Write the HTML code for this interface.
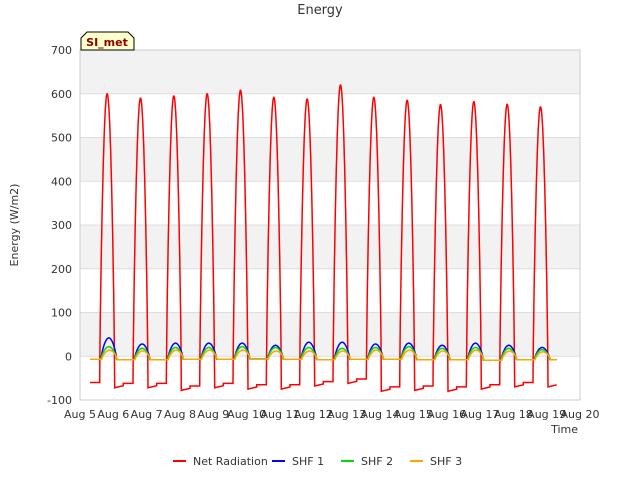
<!DOCTYPE html>
<html><head><meta charset="utf-8"><style>
body{margin:0;background:#fff;font-family:"Liberation Sans",sans-serif;}
svg text{font-family:"DejaVu Sans","Liberation Sans",sans-serif;}
</style></head><body>
<svg id="c" width="640" height="480" xmlns="http://www.w3.org/2000/svg"></svg>
<script>
const categories=["Aug 5","Aug 6","Aug 7","Aug 8","Aug 9","Aug 10","Aug 11","Aug 12","Aug 13","Aug 14","Aug 15","Aug 16","Aug 17","Aug 18","Aug 19","Aug 20"];
const yTicks=[-100,0,100,200,300,400,500,600,700];
const netPeaks=[600,590,595,600,608,592,588,620,592,585,575,582,576,570];
const netNight=[-60,-62,-62,-68,-62,-65,-65,-58,-52,-70,-68,-70,-65,-60];
const shf1Peaks=[42,28,30,30,30,25,32,32,28,30,25,30,25,20];
const shf2Peaks=[22,18,20,20,22,20,20,18,20,22,18,20,18,15];
const shf3Peaks=[14,12,14,14,14,12,12,12,14,14,12,14,12,10];
const shfNight=[-7,-8,-8,-7,-7,-6,-7,-8,-7,-7,-8,-8,-9,-8];
const startDay=5.3;
const NS="http://www.w3.org/2000/svg";
const svg=document.getElementById('c');
const L=80,R=580,T=50,B=400;
const x=d=>L+(d-5)/15*(R-L);
const y=v=>B-(v+100)/800*(B-T);
function el(t,a,p){const e=document.createElementNS(NS,t);for(const k in a)e.setAttribute(k,a[k]);(p||svg).appendChild(e);return e;}
let bg=el('rect',{x:L,y:T,width:R-L,height:B-T,fill:'#fff',stroke:'#ccc'});


for(let i=0;i<yTicks.length-1;i++){
 if(i%2===1){const b=el('rect',{x:L,y:y(yTicks[i+1]),width:R-L,height:y(yTicks[i])-y(yTicks[i+1]),fill:'#f2f2f2'});
 
 }
}
yTicks.forEach(v=>{
 const g=el('line',{x1:L,x2:R,y1:y(v),y2:y(v),stroke:'#ddd'});
 
 
 const t=el('text',{x:L-8,y:y(v)+4,'text-anchor':'end','font-size':11,fill:'#333'});t.textContent=v;
 
 
});
categories.forEach((c,i)=>{
 const t=el('text',{x:x(5+i),y:418,'text-anchor':'middle','font-size':11,fill:'#333'});t.textContent=c;
 
 
});
el('rect',{x:L,y:T,width:R-L,height:B-T,fill:'none',stroke:'#ccc'});
function series(peaks,night,rise,set,color,name,dip){
 let pts=[];
 for(let i=0;i<peaks.length;i++){
  const d0=startDay+i;
  for(let h=0;h<1.0001;h+=0.01){
   let v;
   if(h>rise&&h<set){v=night[i]+(peaks[i]-night[i])*Math.pow(Math.sin(Math.PI*(h-rise)/(set-rise)),0.75);}
   else if(h>=set){const nn=i+1<night.length?night[i+1]:night[i];v=nn-dip*(1-(h-set)/(1.3-set));}
   else v=night[i];
   pts.push(x(d0+h).toFixed(1)+','+y(v).toFixed(1));
  }
 }
 const p=el('polyline',{points:pts.join(' '),fill:'none',stroke:color,'stroke-width':1.5});
 
 
}
series(netPeaks,netNight,0.29,0.74,'#ff0000','net-radiation-line',10);
series(shf1Peaks,shfNight,0.33,0.8,'#0000ff','shf1-line',0);
series(shf2Peaks,shfNight,0.33,0.8,'#00dd00','shf2-line',0);
series(shf3Peaks,shfNight,0.35,0.82,'#ffa500','shf3-line',0);
let t=el('text',{x:320,y:14,'text-anchor':'middle','font-size':13,fill:'#333'});t.textContent='Energy';


t=el('text',{x:18,y:225,'text-anchor':'middle','font-size':11,fill:'#333',transform:'rotate(-90 18 225)'});t.textContent='Energy (W/m2)';


t=el('text',{x:578,y:433,'text-anchor':'end','font-size':11,fill:'#333'});t.textContent='Time';


const tag=el('path',{d:'M81,50 L81,38 L87,32 L128,32 L134,38 L134,50 Z',fill:'#ffffcc',stroke:'#000'});


t=el('text',{x:107,y:46,'text-anchor':'middle','font-size':11,'font-weight':'bold',fill:'#8b0000'});t.textContent='SI_met';


const leg=[['Net Radiation','#ff0000',173],['SHF 1','#0000ff',272],['SHF 2','#00dd00',341],['SHF 3','#ffa500',410]];
leg.forEach(([n,c,lx])=>{
 const g=el('g',{});
 
 
 el('line',{x1:lx,x2:lx+13,y1:461,y2:461,stroke:c,'stroke-width':2},g);
 const tt=el('text',{x:lx+20,y:465,'font-size':11,fill:'#333'},g);tt.textContent=n;
});
</script>
</body></html>
